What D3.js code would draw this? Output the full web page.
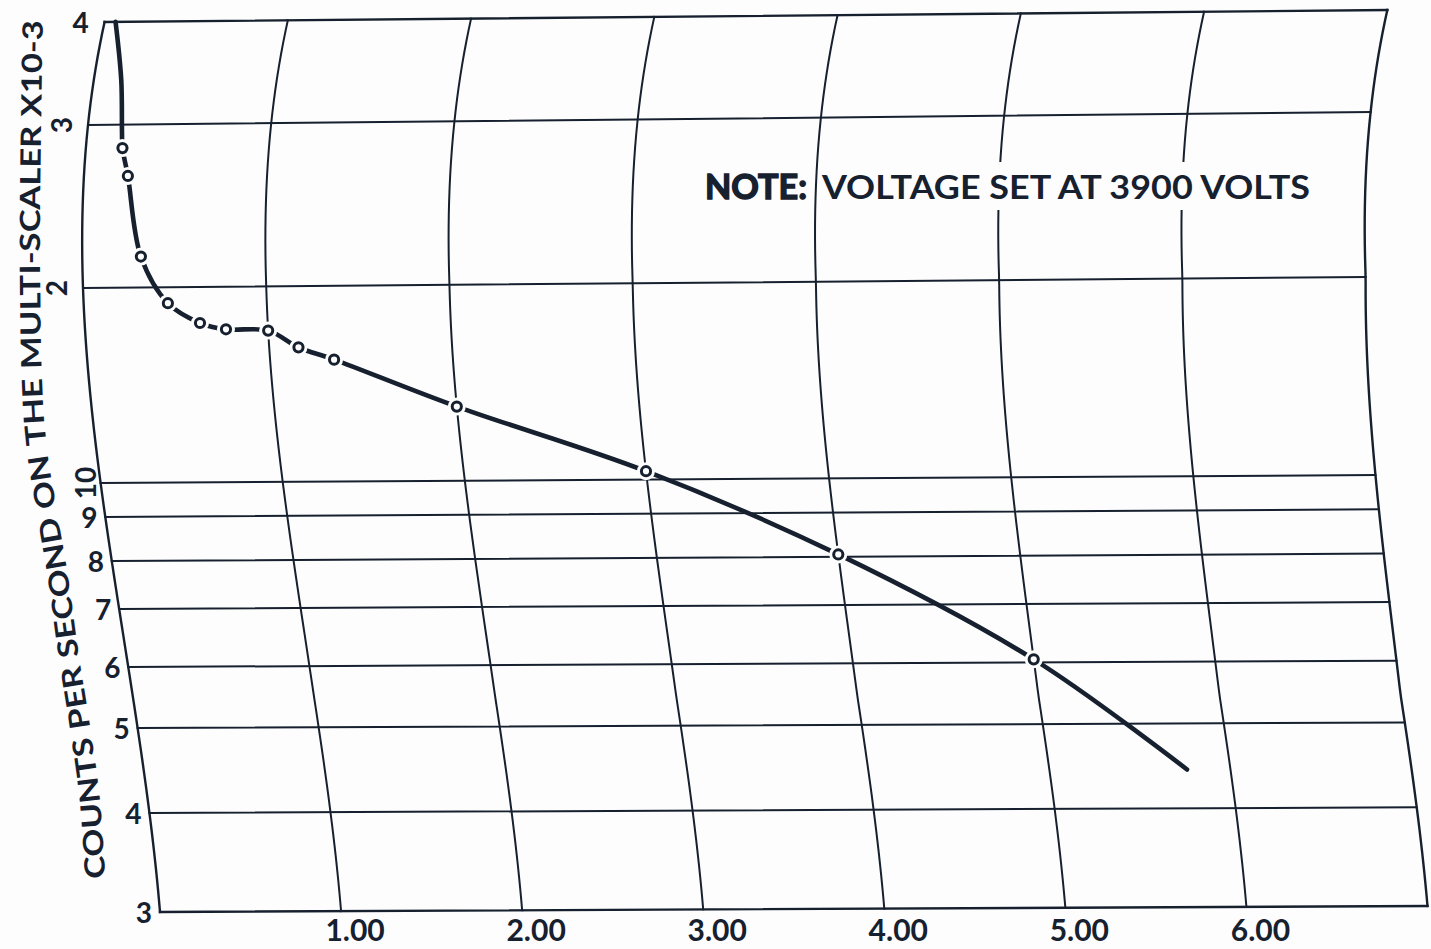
<!DOCTYPE html>
<html>
<head>
<meta charset="utf-8">
<script src="https://cdn.jsdelivr.net/npm/d3@7"></script>
<style>
  html, body { margin: 0; padding: 0; background: #fdfdfd; }
  svg { display: block; }
</style>
</head>
<body>
<svg id="chart" width="1431" height="949"></svg>
<script>
// ---- grid and axis values ----
const xGrid = [0, 1, 2, 3, 4, 5, 6, 7];
const xTickValues = [1, 2, 3, 4, 5, 6];
const xTickLabels = ["1.00", "2.00", "3.00", "4.00", "5.00", "6.00"];
const yGrid = [3, 4, 5, 6, 7, 8, 9, 10, 20, 30, 40];
const yTickLabels = ["3", "4", "5", "6", "7", "8", "9", "10", "2", "3", "4"];
const yTickTurned = [false, false, false, false, false, false, false, true, true, true, false];

// ---- measured points (counts per second x10^-3) ----
const measuredX = [0.20, 0.24, 0.32, 0.46, 0.63, 0.77, 1.00, 1.16, 1.35, 2.00, 3.00, 4.00, 5.00];
const measuredY = [28.3, 26.4, 21.6, 18.9, 17.6, 17.2, 17.1, 16.1, 15.4, 13.0, 10.3, 8.05, 6.05];

// ---- faired curve: runs up to the top rule and on past the last point ----
const headX = [0.06, 0.15, 0.19];
const headY = [40, 34, 29.4];
const tailX = [5.76];
const tailY = [4.43];

const titleText = "COUNTS PER SECOND ON THE MULTI-SCALER X10-3";
const noteLead = "NOTE:";
const noteText = "VOLTAGE SET AT 3900 VOLTS";

const ink = "#16202e";
const paper = "#fdfdfd";
const svg = d3.select("#chart");

// ---- scales ----
// Log ruling of the sheet along its left edge (hand-ruled, so piecewise).
const yLeft = d3.scaleLog()
  .domain(yGrid)
  .range([912, 813, 728, 667, 609, 561, 517, 483, 288, 125, 22]);
// Fraction of the way across the sheet.
const xUnit = d3.scaleLinear().domain([0, 7]).range([0, 1]);
// The sheet is bowed: rules tilt a little and the columns bend with the page.
const rise = d3.scaleLinear()
  .domain([22, 125, 288, 483, 609, 728, 912])
  .range([-12, -13, -11, -8, -7, -5.5, -6]);
const span = d3.scaleLinear()
  .domain([22, 288, 700, 912])
  .range([1280, 1283, 1268, 1268]);
// Left margin of the sheet, a gentle cubic bow.
function leftEdge(Y) {
  const u = Y / 100;
  const a = u - 1.25, b = u - 2.88, c = u - 6.59;
  return 88 - 3.067 * a + 2.7953 * a * b - 0.3311 * a * b * c;
}

function place(xd, yd) {
  const f = xUnit(xd);
  const y0 = yLeft(yd);
  const Y = y0 + rise(y0) * f;
  return [leftEdge(Y) + f * span(y0), Y];
}

const smooth = d3.line().curve(d3.curveCatmullRom.alpha(0.5));
const plain = d3.line();

// ---- grid ----
const grid = svg.append("g").attr("fill", "none").attr("stroke", ink)
  .attr("stroke-linecap", "square");

// sample each column finely so the bow stays smooth
const columnSteps = d3.range(0, 1.0001, 1 / 80)
  .map(t => Math.exp(Math.log(3) + t * (Math.log(40) - Math.log(3))));

grid.selectAll("path.col")
  .data(xGrid)
  .join("path")
  .attr("class", "col")
  .attr("stroke-width", d => (d === 0 || d === 7) ? 2.4 : 2)
  .attr("d", d => plain(columnSteps.map(v => place(d, v))));

grid.selectAll("line.row")
  .data(yGrid)
  .join("line")
  .attr("class", "row")
  .attr("stroke-width", d => (d === 3 || d === 40) ? 2.4 : 2)
  .attr("x1", d => place(0, d)[0]).attr("y1", d => place(0, d)[1])
  .attr("x2", d => place(7, d)[0]).attr("y2", d => place(7, d)[1]);

// ---- axis labels ----
const labelFont = "Lato, 'Liberation Sans', Arial, sans-serif";

svg.append("g")
  .selectAll("text")
  .data(xTickValues)
  .join("text")
  .attr("x", d => place(d, 3)[0] + 14)
  .attr("y", 941)
  .attr("text-anchor", "middle")
  .attr("font-family", labelFont)
  .attr("font-weight", 700)
  .attr("font-size", 30)
  .attr("fill", ink)
  .text((d, i) => xTickLabels[i]);

svg.append("g")
  .selectAll("text")
  .data(yGrid)
  .join("text")
  .attr("transform", (d, i) => {
    const p = place(0, d);
    if (yTickTurned[i]) {
      const off = d === 10 ? 16 : 27;
      return `translate(${p[0] - off},${p[1]}) rotate(-90)`;
    }
    const off = d === 40 ? 24 : 16;
    return `translate(${p[0] - off},${p[1]})`;
  })
  .attr("text-anchor", "middle")
  .attr("dominant-baseline", "central")
  .attr("font-family", labelFont)
  .attr("font-weight", 700)
  .attr("font-size", 28)
  .attr("fill", ink)
  .text((d, i) => yTickLabels[i]);

// ---- axis title, lettered word by word along the bent left margin ----
const titlePath = [[106, 892], [100, 800], [89, 720], [78, 650], [67, 570], [55, 500], [46, 440], [42, 380], [40, 250], [41, 130], [43, 6]];
svg.append("path")
  .attr("id", "titleCurve")
  .attr("fill", "none")
  .attr("d", smooth(titlePath));

const titleSize = 28;
const titleStart = 14;
const titleRun = 862;
const titleWords = titleText.split(" ");
const titleG = svg.append("g")
  .attr("font-family", labelFont)
  .attr("font-weight", 700)
  .attr("font-size", titleSize)
  .attr("fill", ink);
const wordNodes = titleWords.map(w => {
  const tp = titleG.append("text").append("textPath")
    .attr("href", "#titleCurve")
    .text(w);
  return tp;
});
const natural = wordNodes.map(tp => tp.node().getComputedTextLength());
const gapWidth = 0.26 * titleSize;
const total = d3.sum(natural) + gapWidth * (titleWords.length - 1);
const k = titleRun / total;
let run = titleStart;
wordNodes.forEach((tp, i) => {
  tp.attr("startOffset", run)
    .attr("textLength", natural[i] * k)
    .attr("lengthAdjust", "spacingAndGlyphs");
  run += (natural[i] + gapWidth) * k;
});

// ---- note ----
const noteGap = svg.append("rect").attr("fill", paper);
svg.append("text")
  .attr("x", 705).attr("y", 199)
  .attr("font-family", labelFont)
  .attr("font-weight", 700)
  .attr("font-size", 34)
  .attr("fill", ink)
  .attr("stroke", ink)
  .attr("stroke-width", 1.4)
  .attr("textLength", 102)
  .attr("lengthAdjust", "spacingAndGlyphs")
  .text(noteLead);
const note = svg.append("text")
  .attr("x", 822).attr("y", 199)
  .attr("font-family", labelFont)
  .attr("font-weight", 700)
  .attr("font-size", 33)
  .attr("fill", ink)
  .attr("textLength", 488)
  .attr("lengthAdjust", "spacingAndGlyphs")
  .text(noteText);
const nb = note.node().getBBox();
noteGap.attr("x", nb.x - 2).attr("y", nb.y - 4)
  .attr("width", nb.width + 4).attr("height", nb.height + 8);

// ---- data curve ----
const curveX = headX.concat(measuredX, tailX);
const curveY = headY.concat(measuredY, tailY);
svg.append("path")
  .attr("fill", "none")
  .attr("stroke", ink)
  .attr("stroke-width", 4.6)
  .attr("stroke-linecap", "round")
  .attr("d", smooth(curveX.map((x, i) => place(x, curveY[i]))));

// open circles, each with a small clear ring around it
const pts = svg.append("g");
pts.selectAll("circle.ring")
  .data(measuredX)
  .join("circle")
  .attr("class", "ring")
  .attr("cx", (d, i) => place(d, measuredY[i])[0])
  .attr("cy", (d, i) => place(d, measuredY[i])[1])
  .attr("r", 9)
  .attr("fill", paper);
pts.selectAll("circle.dot")
  .data(measuredX)
  .join("circle")
  .attr("class", "dot")
  .attr("cx", (d, i) => place(d, measuredY[i])[0])
  .attr("cy", (d, i) => place(d, measuredY[i])[1])
  .attr("r", 4.6)
  .attr("fill", paper)
  .attr("stroke", ink)
  .attr("stroke-width", 3);
</script>
</body>
</html>
